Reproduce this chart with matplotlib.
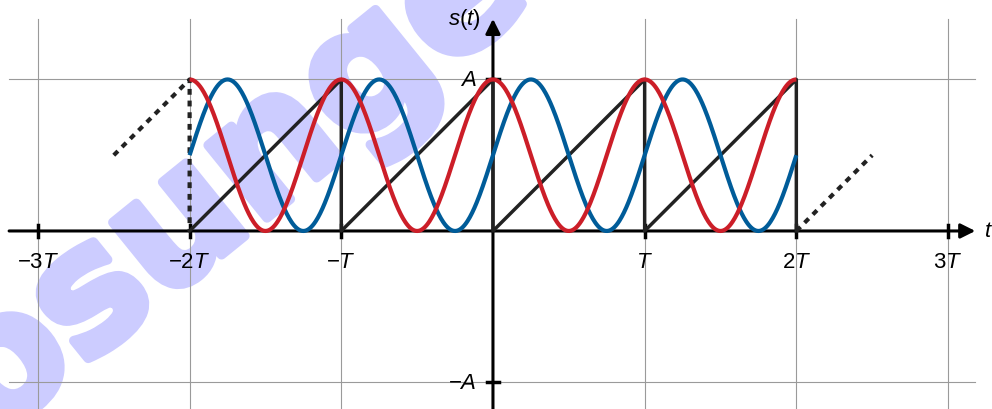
import numpy as np
import matplotlib.pyplot as plt
import matplotlib.patheffects as pe

plt.rcParams["mathtext.fontset"] = "custom"
plt.rcParams["mathtext.rm"] = "Liberation Sans"
plt.rcParams["mathtext.it"] = "Liberation Sans:italic"
plt.rcParams["font.family"] = "Liberation Sans"

# signal parameters (amplitude A = 1, period T = 1)
A = 1.0
T = 1.0
T_START, T_END = -2.0, 2.0

# sawtooth corners (t in units of T, s in units of A)
SAW_T = [-2, -1, -1, 0, 0, 1, 1, 2, 2]
SAW_S = [0, 1, 0, 1, 0, 1, 0, 1, 0]
# dotted continuation outside the window
LEFT_DOT_T = [-2.5, -2, -2]
LEFT_DOT_S = [0.5, 1, 0]
RIGHT_DOT_T = [2, 2.5]
RIGHT_DOT_S = [0, 0.5]

# sinusoids: offset + amplitude*cos(2*pi*t/T + phase)
SINE_PHASE_DEG = [-90, 0]
SINE_COLORS = ["#005c99", "#cc1e28"]

X_TICKS = [-3, -2, -1, 1, 2, 3]
X_LABELS = [r"$-3T$", r"$-2T$", r"$-T$", r"$T$", r"$2T$", r"$3T$"]
Y_TICKS = [1, -1]
Y_LABELS = [r"$A$", r"$-A$"]

fig = plt.figure(figsize=(9.92, 4.10), dpi=100)
ax = fig.add_axes([0, 0, 1, 1])
ax.set_xlim(-3.25, 3.29)
ax.set_ylim(-1.175, 1.531)
ax.axis("off")

# watermark
ax.text(-1.68, 0.34, "Lösungen", rotation=39, rotation_mode="anchor",
        ha="center", va="center", fontsize=123, fontweight="bold",
        color="#ccccff", family="DejaVu Sans", zorder=0,
        path_effects=[pe.withStroke(linewidth=7, foreground="#ccccff")])

# grid
grid_kw = dict(color="#9a9a9a", lw=0.8, zorder=1)
for x in X_TICKS:
    ax.plot([x, x], [-1.2, 1.40], **grid_kw)
for y in Y_TICKS:
    ax.plot([-3.19, 3.18], [y, y], **grid_kw)

# axes with arrows
ax.annotate("", xy=(3.18, 0), xytext=(-3.19, 0),
            arrowprops=dict(arrowstyle="-|>", lw=2.2, color="black",
                            mutation_scale=22, shrinkA=0, shrinkB=0), zorder=3)
ax.annotate("", xy=(0, 1.40), xytext=(0, -1.2),
            arrowprops=dict(arrowstyle="-|>", lw=2.2, color="black",
                            mutation_scale=22, shrinkA=0, shrinkB=0), zorder=3)

for x, lab in zip(X_TICKS, X_LABELS):
    ax.plot([x, x], [-0.04, 0.04], color="black", lw=2.5, zorder=3)
    ax.text(x, -0.2, lab, ha="center", va="center", fontsize=16)
for y, lab in zip(Y_TICKS, Y_LABELS):
    ax.plot([-0.04, 0.04], [y, y], color="black", lw=2.5, zorder=3)
    ax.text(-0.11, y, lab, ha="right", va="center", fontsize=16)

ax.text(-0.08, 1.40, r"$s(t)$", ha="right", va="center", fontsize=16)
ax.text(3.24, 0, r"$t$", ha="left", va="center", fontsize=16)

# sawtooth
ax.plot(SAW_T, SAW_S, color="#222222", lw=2.5, zorder=4)
ax.plot(LEFT_DOT_T, LEFT_DOT_S, color="#222222", lw=3, ls=(0, (1.4, 1.4)), zorder=4)
ax.plot(RIGHT_DOT_T, RIGHT_DOT_S, color="#222222", lw=3, ls=(0, (1.4, 1.4)), zorder=4)

# sinusoids
t = np.linspace(T_START, T_END, 800)
for ph, col in zip(SINE_PHASE_DEG, SINE_COLORS):
    s = A / 2 + A / 2 * np.cos(2 * np.pi * t / T + np.deg2rad(ph))
    ax.plot(t, s, color=col, lw=3, zorder=5, solid_capstyle="butt")

fig.savefig("out.png", dpi=100)
